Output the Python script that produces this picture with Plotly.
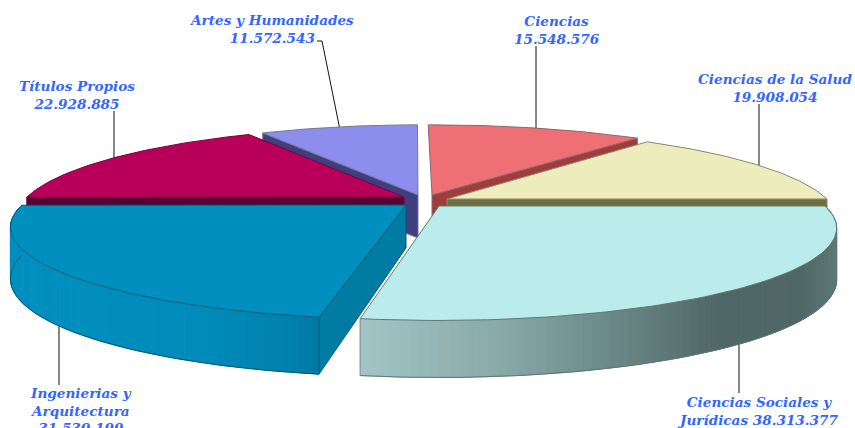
import numpy as np
import plotly.graph_objects as go

# ---- data (clockwise from the right-hand horizontal edge) ----
categories = ["Ciencias Sociales y Jurídicas", "Ingenierias y Arquitectura", "Títulos Propios",
              "Artes y Humanidades", "Ciencias", "Ciencias de la Salud"]
values = [38313377, 31530199, 22928885, 11572543, 15548576, 19908054]
value_labels = ["38.313.377", "31.530.199", "22.928.885", "11.572.543", "15.548.576", "19.908.054"]

# ---- style ----
top_colors = ["#bbecec", "#008fbf", "#b8005a", "#8d8dee", "#ef7074", "#ececbc"]
face_colors = ["#9fc2c2", "#007ba3", "#5a0030", "#3f3f7f", "#a03c3c", "#6e6e40"]
edge_colors = ["#5f7676", "#005a78", "#7a0040", "#77778f", "#8a6a6a", "#888870"]
apex = [(439, 206), (406, 205), (404, 197), (418, 195), (432, 195), (447, 199)]
radius = [386, 384, 377, 368, 385, 380]
# small perspective corrections of each slice's start/end angle, degrees
nudge = [(0, 0.3), (1.3, 0), (0, 1.3), (0.5, 1.2), (0.6, 0.5), (0, 0)]
# which cut face of each slice faces the viewer: 0 = start edge, 1 = end edge
visible_face = [None, 0, 0, 0, 1, 1]
K, RY = 0.24, 87
DRAW_ORDER = [3, 4, 2, 5, 1, 0]
WALLS = {
    0: [(360, "#a3c5c5"), (500, "#8aa9a9"), (600, "#6f8c8c"), (720, "#4f6766"), (800, "#4f6866"), (840, "#607a79")],
    1: [(9, "#0090c0"), (200, "#008cba"), (280, "#0083ae"), (320, "#0079a3")],
}
TEXT = "#3366ff"


def project(i, theta):
    u, v = np.cos(theta), np.sin(theta)
    w = 1 - K * v
    return apex[i][0] + radius[i] * u / w, apex[i][1] + RY * v / w


def depth(theta):
    return 50 + 7 * np.sin(theta)


def hex2rgb(c):
    return np.array([int(c[j:j + 2], 16) for j in (1, 3, 5)], float)


def wall_color(stops, x):
    xs = [s[0] for s in stops]
    rgb = [np.interp(x, xs, [hex2rgb(s[1])[c] for s in stops]) for c in range(3)]
    return "rgb(%d,%d,%d)" % tuple(rgb)


def poly(xs, ys, fill, line=None, width=1):
    return go.Scatter(x=list(xs), y=list(ys), mode="lines", fill="toself", fillcolor=fill,
                      line=dict(color=line or fill, width=width), hoverinfo="skip", showlegend=False)


fractions = np.array(values, float) / sum(values)
edges = np.concatenate([[0], np.cumsum(fractions)]) * 2 * np.pi

fig = go.Figure()
for i in DRAW_ORDER:
    t0 = edges[i] + np.radians(nudge[i][0])
    t1 = edges[i + 1] + np.radians(nudge[i][1])
    th = np.linspace(t0, t1, 90)
    rx, ry = project(i, th)
    ax, ay = apex[i]
    # cut face
    if visible_face[i] is not None:
        t = (t0, t1)[visible_face[i]]
        x, y = project(i, t)
        fig.add_trace(poly([ax, x, x, ax, ax], [ay, y, y + depth(t), ay + 43, ay],
                           face_colors[i], edge_colors[i]))
    # walls
    if i in WALLS:
        for a, b in zip(th[:-1], th[1:]):
            xa, ya = project(i, a)
            xb, yb = project(i, b)
            fig.add_trace(poly([xa, xb, xb, xa, xa],
                               [ya, yb, yb + depth(b), ya + depth(a), ya],
                               wall_color(WALLS[i], (xa + xb) / 2)))
        fig.add_trace(go.Scatter(x=list(rx), y=list(ry + depth(th)), mode="lines",
                                 line=dict(color=edge_colors[i], width=1),
                                 hoverinfo="skip", showlegend=False))
    # vertical end edge of the near slice's wall
    if i == 0:
        x, y = project(i, t1)
        fig.add_trace(go.Scatter(x=[x, x], y=[y, y + depth(t1)], mode="lines",
                                 line=dict(color="#7f9090", width=1), hoverinfo="skip", showlegend=False))
    if i == 1:
        x, y = project(i, t0)
        fig.add_trace(go.Scatter(x=[x, x], y=[y, y + depth(t0)], mode="lines",
                                 line=dict(color="#005a78", width=1), hoverinfo="skip", showlegend=False))
    # top surface
    fig.add_trace(poly([ax, *rx, ax], [ay, *ry, ay], top_colors[i], edge_colors[i]))

leaders = [
    [(536, 46), (536, 131)],
    [(759, 104), (759, 168)],
    [(114, 111), (114, 160)],
    [(317, 41), (322, 41), (340, 130)],
    [(59, 323), (59, 385)],
    [(739, 340), (739, 393)],
]
shapes = []
for pts in leaders:
    path = "M" + " L".join(f"{x},{y}" for x, y in pts)
    shapes.append(dict(type="path", path=path, xref="x", yref="y", layer="below",
                       line=dict(color="#111111", width=1)))

label_text = [
    "Ciencias Sociales y<br>Jurídicas " + value_labels[0],
    "Ingenierias y<br>Arquitectura<br>" + value_labels[1],
    categories[2] + "<br>" + value_labels[2],
    categories[3] + "<br>" + value_labels[3],
    categories[4] + "<br>" + value_labels[4],
    categories[5] + "<br>" + value_labels[5],
]
label_pos = [(757, 411), (81, 410), (77, 95), (271, 29), (557, 30), (775, 88)]
annotations = [
    dict(x=x, y=y, xref="x", yref="y", text=t, showarrow=False, xanchor="center", yanchor="middle",
         align="center", font=dict(family="DejaVu Serif", size=13.6, color=TEXT, style="italic", weight="bold"))
    for t, (x, y) in zip(label_text, label_pos)
]

fig.update_layout(
    width=855, height=428, margin=dict(l=0, r=0, t=0, b=0),
    paper_bgcolor="white", plot_bgcolor="white", showlegend=False,
    xaxis=dict(range=[0, 855], visible=False, fixedrange=True),
    yaxis=dict(range=[428, 0], visible=False, fixedrange=True),
    shapes=shapes, annotations=annotations,
)
fig.write_html("out.html", config={"displayModeBar": False},
               post_script="document.body.style.margin='0';document.body.style.overflow='hidden';")
